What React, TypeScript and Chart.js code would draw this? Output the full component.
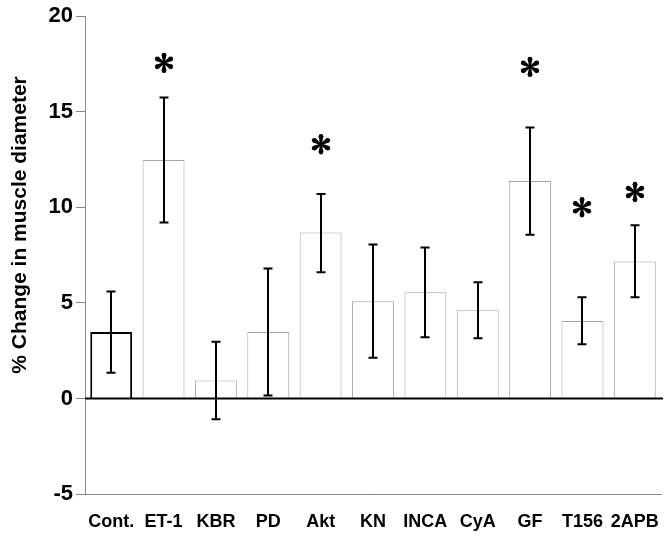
import React, { useEffect, useRef } from "react";
import { Chart, registerables } from "chart.js";

Chart.register(...registerables);

const categories = ["Cont.", "ET-1", "KBR", "PD", "Akt", "KN", "INCA", "CyA", "GF", "T156", "2APB"];
const means = [3.48, 12.47, 0.94, 3.48, 8.68, 5.09, 5.56, 4.62, 11.38, 4.05, 7.17];
const errHigh = [5.6, 15.74, 2.96, 6.8, 10.7, 8.05, 7.9, 6.08, 14.18, 5.3, 9.06];
const errLow = [1.35, 9.2, -1.09, 0.15, 6.6, 2.13, 3.2, 3.15, 8.57, 2.84, 5.29];
const starLevel = [null, 17.56, null, null, 13.3, null, null, null, 17.35, 10.0, 10.8];
const yTicks = [-5, 0, 5, 10, 15, 20];
const yTitle = "% Change in muscle diameter";

const FONT = "Arial, 'Liberation Sans', sans-serif";

function drawStar(ctx: CanvasRenderingContext2D, cx: number, cy: number) {
  const L = 7.8;
  const endR = 2.4;
  const baseW = 0.8;
  ctx.save();
  ctx.fillStyle = "#000";
  for (let k = 0; k < 6; k++) {
    const a = (Math.PI / 3) * k - Math.PI / 2;
    const dx = Math.cos(a), dy = Math.sin(a);
    const px = -dy, py = dx;
    const ex = cx + dx * L, ey = cy + dy * L;
    ctx.beginPath();
    ctx.moveTo(cx + px * baseW, cy + py * baseW);
    ctx.lineTo(ex + px * endR, ey + py * endR);
    ctx.lineTo(ex - px * endR, ey - py * endR);
    ctx.lineTo(cx - px * baseW, cy - py * baseW);
    ctx.closePath();
    ctx.fill();
    ctx.beginPath();
    ctx.arc(ex, ey, endR, 0, Math.PI * 2);
    ctx.fill();
  }
  ctx.restore();
}

const overlayPlugin = {
  id: "overlay",
  afterDatasetsDraw(chart: any) {
    const ctx = chart.ctx as CanvasRenderingContext2D;
    const x = chart.scales.x;
    const y = chart.scales.y;
    const area = chart.chartArea;
    ctx.save();
    const y0 = y.getPixelForValue(0);
    ctx.strokeStyle = "#000";
    ctx.lineWidth = 2;
    ctx.beginPath();
    ctx.moveTo(area.left, y0);
    ctx.lineTo(area.right + 2, y0);
    ctx.stroke();
    ctx.lineWidth = 2;
    for (let i = 0; i < categories.length; i++) {
      const cx = Math.round(x.getPixelForValue(i));
      const yh = y.getPixelForValue(errHigh[i]);
      const yl = y.getPixelForValue(errLow[i]);
      ctx.beginPath();
      ctx.moveTo(cx, yh);
      ctx.lineTo(cx, yl);
      ctx.moveTo(cx - 4.5, yh);
      ctx.lineTo(cx + 4.5, yh);
      ctx.moveTo(cx - 4.5, yl);
      ctx.lineTo(cx + 4.5, yl);
      ctx.stroke();
      const s = starLevel[i];
      if (s !== null) drawStar(ctx, cx, y.getPixelForValue(s));
    }
    ctx.translate(26, 225);
    ctx.rotate(-Math.PI / 2);
    ctx.fillStyle = "#000";
    ctx.font = `bold 21px ${FONT}`;
    ctx.textAlign = "center";
    ctx.textBaseline = "alphabetic";
    ctx.fillText(yTitle, 0, 0);
    ctx.restore();
  },
};

export default function App() {
  const ref = useRef<HTMLCanvasElement>(null);
  useEffect(() => {
    const chart = new Chart(ref.current!, {
      type: "bar",
      data: {
        labels: categories,
        datasets: [
          {
            data: means,
            backgroundColor: "#ffffff",
            borderColor: categories.map((_, i) => (i === 0 ? "#000000" : "#a6a6a6")),
            borderWidth: categories.map((_, i) => (i === 0 ? 2 : 1)),
            barPercentage: 0.8,
            categoryPercentage: 1.0,
          },
        ],
      },
      options: {
        responsive: false,
        animation: false,
        layout: { padding: { left: 0, top: 13, right: 6, bottom: 0 } },
        plugins: { legend: { display: false }, tooltip: { enabled: false } },
        scales: {
          x: {
            offset: true,
            grid: { display: false, drawTicks: false },
            border: { display: true, color: "#888888", width: 1 },
            ticks: {
              color: "#000",
              font: { family: FONT, size: 18, weight: "bold" },
              padding: 17,
              maxRotation: 0,
              autoSkip: false,
            },
            afterFit(scale: any) {
              scale.height = 43;
              scale.paddingLeft = 0;
              scale.paddingRight = 0;
            },
          },
          y: {
            min: -5,
            max: 20,
            afterBuildTicks(scale: any) {
              scale.ticks = yTicks.map((v) => ({ value: v }));
            },
            grid: {
              drawOnChartArea: false,
              drawTicks: true,
              tickLength: 9,
              tickColor: "#888888",
              tickWidth: 1,
            },
            border: { display: true, color: "#888888", width: 1 },
            ticks: {
              color: "#000",
              font: { family: FONT, size: 22, weight: "bold" },
              padding: 3,
            },
            afterFit(scale: any) {
              scale.width = 85;
            },
          },
        },
      },
      plugins: [overlayPlugin],
    });
    return () => chart.destroy();
  }, []);
  return (
    <div style={{ position: "fixed", left: 0, top: 0, width: 667, height: 537, background: "#fff" }}>
      <canvas ref={ref} width={667} height={537} style={{ width: 667, height: 537 }} />
    </div>
  );
}
